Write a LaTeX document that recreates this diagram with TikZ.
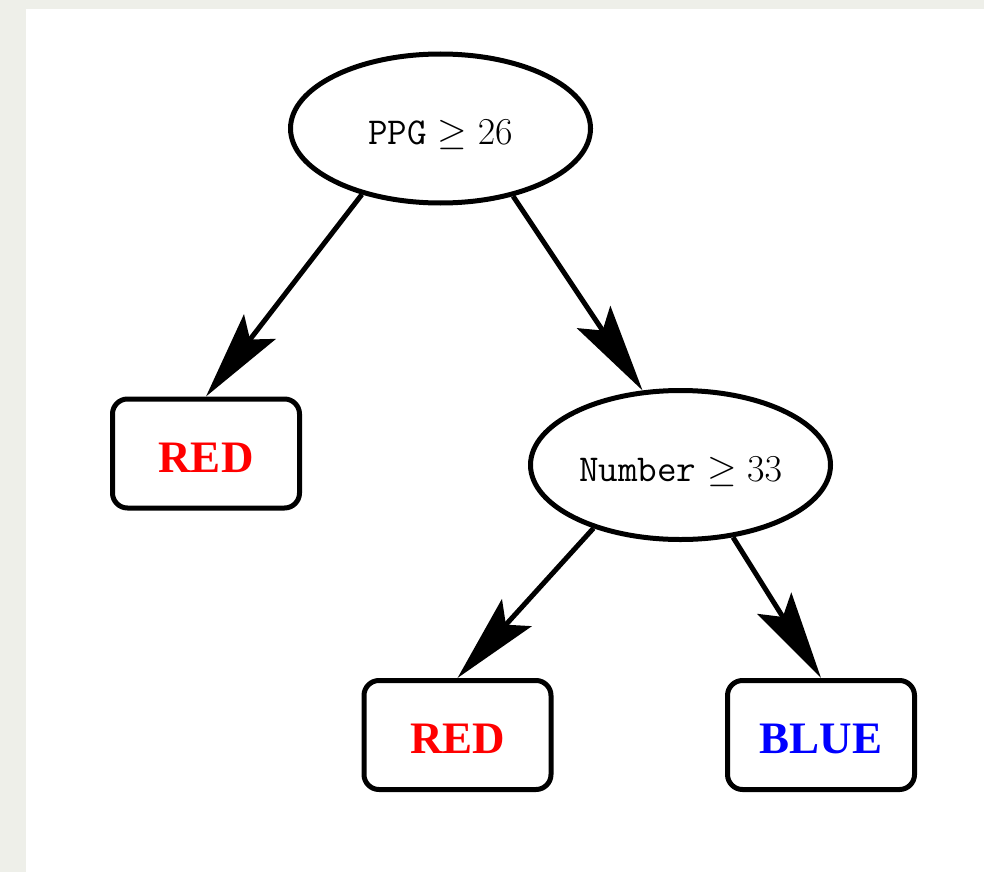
\RequirePackage{fix-cm}
\documentclass[tikz,border=0pt]{standalone}
\usepackage{fontspec}
\newfontfamily\leafserif{Liberation Serif}
\usetikzlibrary{shapes.geometric,arrows.meta}
\definecolor{pagegrey}{HTML}{EEEFE9}
\definecolor{leafred}{HTML}{FF0000}
\definecolor{leafblue}{HTML}{0000FF}
\begin{document}
\begin{tikzpicture}[x=1pt,y=-1pt,
  testnode/.style={ellipse,draw=black,line width=5pt,fill=white,
    minimum width=300pt,minimum height=149pt,inner sep=0pt,
    text height=32pt,text depth=0pt,
    font=\fontsize{38}{42}\selectfont},
  leafbox/.style={rectangle,rounded corners=15pt,draw=black,line width=5pt,fill=white,
    minimum width=187pt,minimum height=109pt,inner sep=0pt,
    text height=37pt,text depth=0pt,
    font=\fontsize{45}{49}\selectfont\leafserif\bfseries},
  edgearrow/.style={line width=5pt,-{Stealth[length=88pt,width=40pt,inset=16pt]}}]
\useasboundingbox (0,0) rectangle (984,872);
\fill[pagegrey] (0,0) rectangle (984,872);
\fill[white] (26,9) rectangle (984,872);
\node[testnode] (e1) at (440.5,128.5) {$\texttt{PPG} \geq 26$};
\node[testnode] (e2) at (680.5,465) {$\texttt{Number} \geq 33$};
\node[leafbox,text=leafred] (r1) at (206,453.5) {RED};
\node[leafbox,text=leafred] (r2) at (457.5,735) {RED};
\node[leafbox,text=leafblue] (b1) at (821,735) {BLUE};
\draw[edgearrow] (e1.220.6) -- (r1.north);
\draw[edgearrow] (e1.317.4) -- (e2.117.7);
\draw[edgearrow] (e2.216.9) -- (r2.north);
\draw[edgearrow] (e2.306) -- (b1.north);
\end{tikzpicture}
\end{document}
